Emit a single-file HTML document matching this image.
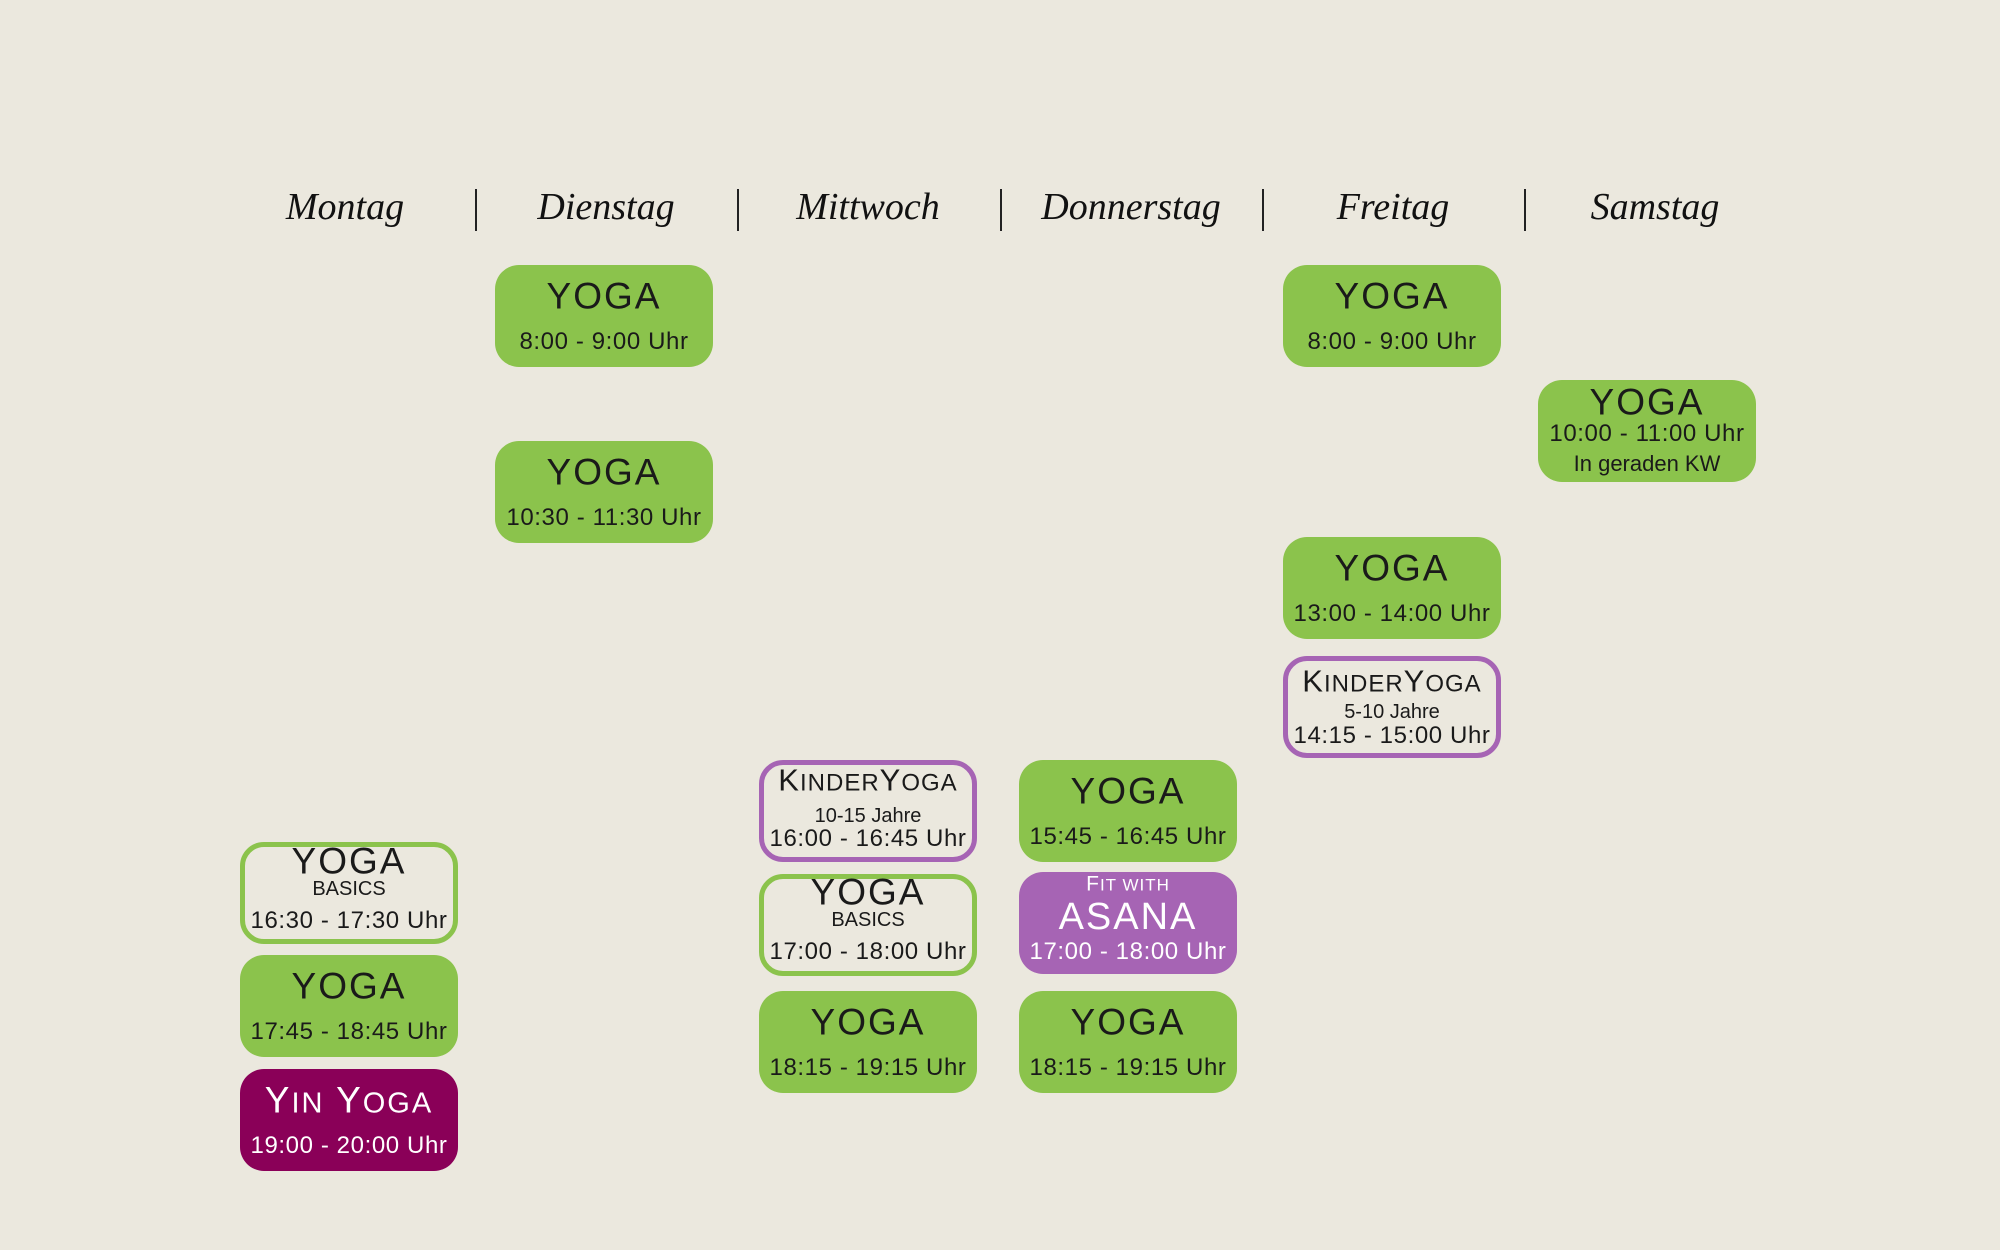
<!DOCTYPE html>
<html><head><meta charset="utf-8"><style>
body{margin:0;width:2000px;height:1250px;background:#ebe8de;position:relative;overflow:hidden;font-family:"Liberation Sans",sans-serif;}
.h{position:absolute;top:185px;width:262px;text-align:center;font-family:"Liberation Serif",serif;font-style:italic;font-size:38px;color:#111;}
.sep{position:absolute;top:189px;width:2px;height:42px;background:#222;}
.b{position:absolute;width:218px;height:102px;border-radius:24px;box-sizing:border-box;color:#1a1a1a;}
.g{background:#8bc34c;}
.og{border:5px solid #8bc34c;background:#ebe8de;}
.op{border:5px solid #a664b4;background:#ebe8de;}
.p{background:#a664b4;color:#fff;}
.m{background:#8a0058;color:#fff;}
.t{position:absolute;left:-10px;right:-10px;text-align:center;white-space:nowrap;transform:translateY(-50%);line-height:1;}
.ti{font-size:37px;letter-spacing:2px;}
.tm{font-size:24px;letter-spacing:0.6px;}
.sm{font-size:20px;}
</style></head><body>
<div class="h" style="left:214px">Montag</div>
<div class="h" style="left:475px">Dienstag</div>
<div class="h" style="left:737px">Mittwoch</div>
<div class="h" style="left:1000px">Donnerstag</div>
<div class="h" style="left:1262px">Freitag</div>
<div class="h" style="left:1524px">Samstag</div>
<div class="sep" style="left:475px"></div>
<div class="sep" style="left:737px"></div>
<div class="sep" style="left:1000px"></div>
<div class="sep" style="left:1262px"></div>
<div class="sep" style="left:1524px"></div>

<div class="b g" style="left:495px;top:265px"><div class="t ti" style="top:31px">YOGA</div><div class="t tm" style="top:77px">8:00 - 9:00 Uhr</div></div>
<div class="b g" style="left:495px;top:441px"><div class="t ti" style="top:31px">YOGA</div><div class="t tm" style="top:77px">10:30 - 11:30 Uhr</div></div>
<div class="b g" style="left:1283px;top:265px"><div class="t ti" style="top:31px">YOGA</div><div class="t tm" style="top:77px">8:00 - 9:00 Uhr</div></div>
<div class="b g" style="left:1283px;top:537px"><div class="t ti" style="top:31px">YOGA</div><div class="t tm" style="top:77px">13:00 - 14:00 Uhr</div></div>
<div class="b op" style="left:1283px;top:656px"><div class="t" style="top:20px;font-size:31px;letter-spacing:1px">K<span style="font-size:24px">INDER</span>Y<span style="font-size:24px">OGA</span></div><div class="t sm" style="top:51px">5-10 Jahre</div><div class="t tm" style="top:75px">14:15 - 15:00 Uhr</div></div>
<div class="b g" style="left:1538px;top:380px"><div class="t ti" style="top:22px">YOGA</div><div class="t tm" style="top:54px">10:00 - 11:00 Uhr</div><div class="t sm" style="top:84px;font-size:22px">In geraden KW</div></div>
<div class="b op" style="left:759px;top:760px"><div class="t" style="top:15px;font-size:31px;letter-spacing:1px">K<span style="font-size:24px">INDER</span>Y<span style="font-size:24px">OGA</span></div><div class="t sm" style="top:51px">10-15 Jahre</div><div class="t tm" style="top:74px">16:00 - 16:45 Uhr</div></div>
<div class="b og" style="left:759px;top:874px"><div class="t ti" style="top:13px">YOGA</div><div class="t sm" style="top:41px">BASICS</div><div class="t tm" style="top:73px">17:00 - 18:00 Uhr</div></div>
<div class="b g" style="left:759px;top:991px"><div class="t ti" style="top:31px">YOGA</div><div class="t tm" style="top:77px">18:15 - 19:15 Uhr</div></div>
<div class="b g" style="left:1019px;top:760px"><div class="t ti" style="top:31px">YOGA</div><div class="t tm" style="top:77px">15:45 - 16:45 Uhr</div></div>
<div class="b p" style="left:1019px;top:872px"><div class="t" style="top:12px;font-size:21px;letter-spacing:1px">F<span style="font-size:17px">IT WITH</span></div><div class="t" style="top:45px;font-size:38px;letter-spacing:2px">ASANA</div><div class="t tm" style="top:80px">17:00 - 18:00 Uhr</div></div>
<div class="b g" style="left:1019px;top:991px"><div class="t ti" style="top:31px">YOGA</div><div class="t tm" style="top:77px">18:15 - 19:15 Uhr</div></div>
<div class="b og" style="left:240px;top:842px"><div class="t ti" style="top:14px">YOGA</div><div class="t sm" style="top:42px">BASICS</div><div class="t tm" style="top:74px">16:30 - 17:30 Uhr</div></div>
<div class="b g" style="left:240px;top:955px"><div class="t ti" style="top:31px">YOGA</div><div class="t tm" style="top:77px">17:45 - 18:45 Uhr</div></div>
<div class="b m" style="left:240px;top:1069px"><div class="t ti" style="top:31px">Y<span style="font-size:29px">IN</span> Y<span style="font-size:29px">OGA</span></div><div class="t tm" style="top:77px">19:00 - 20:00 Uhr</div></div>
</body></html>
